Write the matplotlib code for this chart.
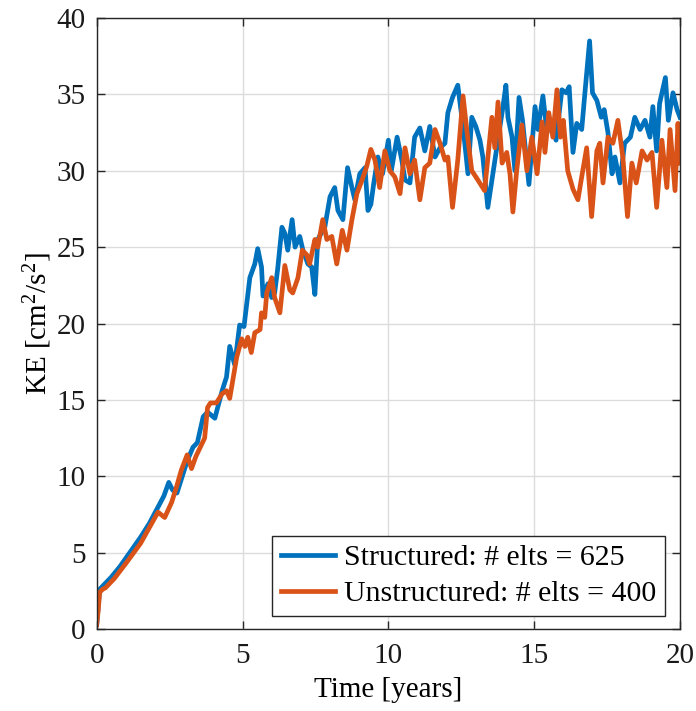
import matplotlib
matplotlib.use('Agg')
import matplotlib.pyplot as plt

# Kinetic energy time series (time in years, KE in cm^2/s^2)
t_struct = [0.0, 0.05, 0.1, 0.25, 0.5, 0.8, 1.13, 1.5, 1.8, 2.05, 2.3, 2.47, 2.6, 2.75, 2.9,
            3.1, 3.3, 3.45, 3.65, 3.8, 4.05, 4.3, 4.45, 4.56, 4.73, 4.9, 5.05, 5.25, 5.42, 5.52,
            5.65, 5.7, 5.87, 6.0, 6.1, 6.2, 6.35, 6.45, 6.55, 6.7, 6.8, 6.96, 7.07, 7.24, 7.37,
            7.48, 7.58, 7.75, 7.82, 8.0, 8.16, 8.27, 8.44, 8.6, 8.75, 8.85, 9.02, 9.2, 9.3, 9.4,
            9.5, 9.64, 9.8, 10.0, 10.1, 10.3, 10.46, 10.57, 10.74, 10.9, 11.08, 11.25, 11.42,
            11.6, 11.77, 11.94, 12.04, 12.2, 12.38, 12.56, 12.73, 12.86, 13.0, 13.14, 13.24,
            13.41, 13.6, 13.76, 13.93, 14.03, 14.1, 14.24, 14.34, 14.48, 14.6, 14.82, 15.03,
            15.13, 15.3, 15.44, 15.6, 15.75, 15.95, 16.1, 16.2, 16.33, 16.46, 16.63, 16.74,
            16.9, 17.0, 17.15, 17.3, 17.4, 17.53, 17.67, 17.77, 17.94, 18.1, 18.3, 18.45,
            18.63, 18.8, 18.97, 19.07, 19.2, 19.3, 19.5, 19.6, 19.76, 19.9, 20.0]
ke_struct = [0.3, 1.5, 2.6, 2.9, 3.4, 4.1, 5.0, 6.0, 6.9, 7.8, 8.7, 9.6, 9.1, 8.9, 9.8,
             11.0, 11.9, 12.2, 13.9, 14.2, 13.8, 15.6, 16.5, 18.5, 17.3, 19.9, 19.8, 23.0, 23.9, 24.9,
             23.7, 21.8, 22.6, 21.7, 22.0, 23.5, 26.3, 25.9, 24.8, 26.8, 25.0, 25.7, 24.8, 23.9, 23.7,
             21.9, 25.5, 26.1, 26.3, 28.3, 28.9, 27.4, 26.8, 30.2, 28.9, 28.1, 29.8, 30.2, 27.4, 27.8,
             29.2, 30.9, 29.8, 32.0, 30.0, 32.2, 30.7, 29.4, 29.2, 32.2, 32.8, 31.3, 32.9,
             30.9, 31.5, 31.8, 33.8, 34.8, 35.6, 32.9, 29.8, 33.5, 32.9, 32.0, 30.9,
             27.6, 30.0, 32.0, 34.2, 35.6, 33.5, 32.2, 30.0, 34.8, 33.3, 29.1, 34.2,
             32.7, 34.9, 32.5, 33.3, 32.0, 35.3, 35.1, 35.5, 31.2, 33.1, 32.7, 35.1,
             38.5, 35.1, 34.6, 33.5, 34.0, 32.5, 29.8, 30.9, 29.2, 31.8, 32.2, 33.5,
             32.7, 33.3, 32.2, 34.2, 31.3, 34.4, 36.1, 33.3, 35.1, 34.0, 33.5]

t_unstruct = [0.0, 0.05, 0.1, 0.2, 0.3, 0.6, 1.0, 1.5, 2.1, 2.33, 2.57, 2.75, 2.9, 3.1, 3.25,
              3.4, 3.7, 3.8, 3.9, 4.1, 4.3, 4.45, 4.56, 4.8, 4.97, 5.08, 5.18, 5.3, 5.42, 5.6,
              5.65, 5.76, 5.83, 6.0, 6.1, 6.28, 6.45, 6.62, 6.72, 6.9, 7.05, 7.2, 7.3, 7.48, 7.58,
              7.75, 7.89, 8.06, 8.23, 8.42, 8.58, 8.75, 8.92, 9.1, 9.26, 9.4, 9.54, 9.7, 9.88,
              10.05, 10.22, 10.4, 10.57, 10.74, 10.9, 11.08, 11.25, 11.42, 11.6, 11.77, 11.94,
              12.04, 12.2, 12.38, 12.56, 12.7, 12.86, 13.0, 13.3, 13.55, 13.65, 13.76, 13.9,
              14.06, 14.17, 14.27, 14.4, 14.58, 14.75, 14.92, 15.1, 15.27, 15.37, 15.5, 15.64,
              15.78, 15.9, 16.0, 16.15, 16.33, 16.5, 16.63, 16.8, 16.97, 17.15, 17.25, 17.36,
              17.53, 17.7, 17.87, 18.04, 18.2, 18.35, 18.5, 18.7, 18.87, 19.04, 19.2, 19.38,
              19.55, 19.66, 19.83, 19.93, 20.0]
ke_unstruct = [0.3, 1.2, 2.4, 2.6, 2.7, 3.3, 4.3, 5.6, 7.65, 7.3, 8.3, 9.4, 10.4, 11.4, 10.5,
               11.3, 12.5, 14.5, 14.8, 14.8, 15.4, 15.6, 15.1, 17.8, 19.0, 18.5, 19.1, 18.1, 19.4, 19.6,
               20.7, 20.4, 22.0, 23.0, 21.7, 20.7, 23.8, 22.2, 22.0, 23.0, 24.8, 24.5, 23.9, 25.5, 25.0,
               26.8, 25.5, 25.7, 23.9, 26.1, 24.8, 26.8, 28.5, 29.4, 30.3, 31.4, 30.7, 28.9, 31.3,
               30.0, 29.6, 28.5, 31.5, 29.8, 30.7, 28.1, 30.2, 30.5, 32.7, 31.8, 30.7,
               30.9, 27.6, 30.7, 34.9, 32.5, 30.0, 29.6, 28.7, 33.5, 31.5, 34.5, 30.5,
               31.2, 29.8, 27.3, 30.0, 33.0, 30.0, 32.2, 29.8, 33.2, 31.2, 33.8, 32.2,
               35.3, 32.2, 33.3, 30.0, 28.8, 28.1, 29.6, 31.5, 27.0, 31.3, 31.8, 29.2,
               32.2, 31.8, 33.3, 30.9, 27.0, 30.5, 29.2, 31.3, 30.7, 31.2, 27.6, 32.0,
               28.9, 32.7, 28.7, 33.1, 30.5]

labels = ['Structured: # elts = 625', 'Unstructured: # elts = 400']
colors = ['#0072BD', '#D95319']

plt.rcParams['font.family'] = ['Liberation Serif', 'DejaVu Serif']
plt.rcParams['mathtext.fontset'] = 'custom'
plt.rcParams['mathtext.rm'] = 'Liberation Serif'
plt.rcParams['font.size'] = 21

fig = plt.figure(figsize=(6.96, 7.11), dpi=100)
ax = fig.add_axes([0.139, 0.1153, 0.838, 0.8594])

ax.plot(t_struct, ke_struct, color=colors[0], lw=3.4, label=labels[0], solid_joinstyle='round')
ax.plot(t_unstruct, ke_unstruct, color=colors[1], lw=3.4, label=labels[1], solid_joinstyle='round')

ax.set_xlim(0, 20)
ax.set_ylim(0, 40)
ax.set_xticks([0, 5, 10, 15, 20])
ax.set_yticks(range(0, 41, 5))
ax.grid(True, color='#dcdcdc', lw=1.0)
ax.set_axisbelow(True)
ax.tick_params(direction='in', top=True, right=True, length=6, width=1, colors='#262626',
               labelcolor='#1a1a1a')
ax.tick_params(axis='x', pad=10)
ax.tick_params(axis='y', pad=8)
for s in ax.spines.values():
    s.set_color('#262626')
    s.set_linewidth(1.0)

ax.set_xlabel('Time [years]', labelpad=6)
ax.set_ylabel(r'KE [cm$\mathregular{^2}$/s$\mathregular{^2}$]', labelpad=2)

leg = ax.legend(loc='lower right', bbox_to_anchor=(0.974, 0.021), borderaxespad=0,
                fancybox=False, edgecolor='#262626', framealpha=1, handlelength=1.8,
                handletextpad=0.3, borderpad=0.3, labelspacing=0.3, fontsize=21.5)
leg.get_frame().set_linewidth(1.0)

plt.savefig('out.png', dpi=100)
